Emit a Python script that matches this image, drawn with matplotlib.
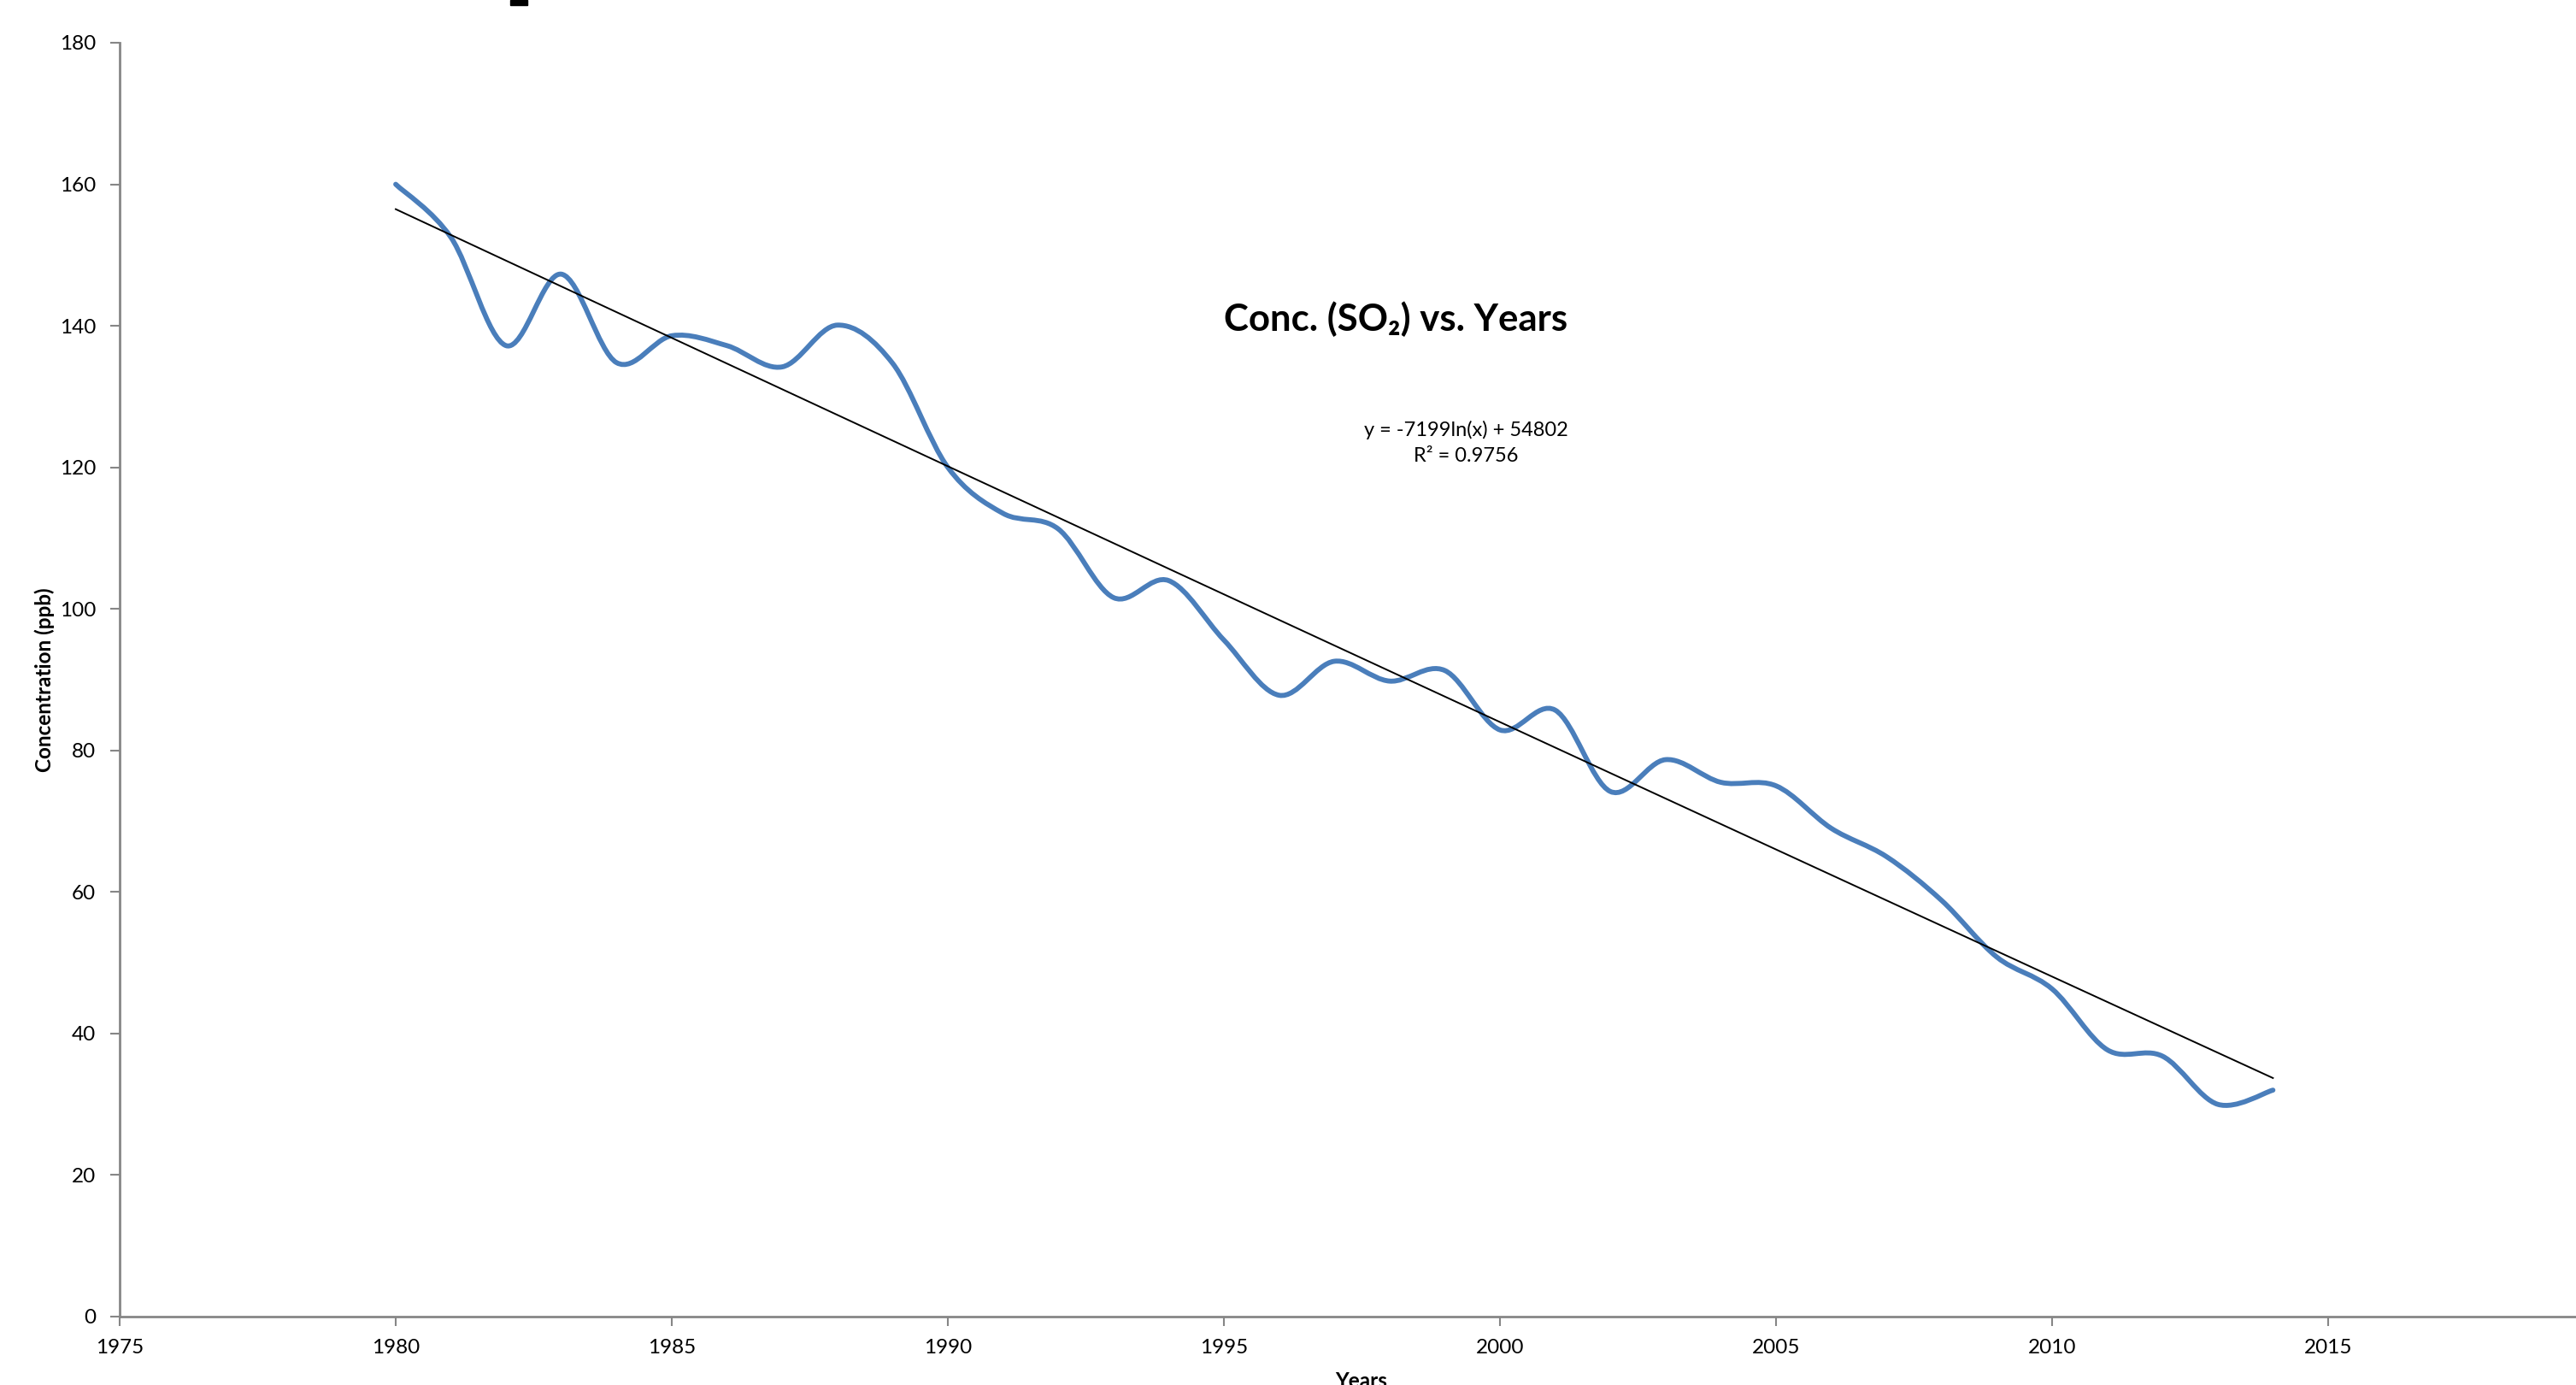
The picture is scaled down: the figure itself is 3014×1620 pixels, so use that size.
"""
SO2 concentration vs. year, smoothed line with a logarithmic trendline.
"""

import matplotlib
matplotlib.use("Agg")
import matplotlib.pyplot as plt
import numpy as np
from matplotlib.path import Path
from matplotlib.patches import PathPatch, Rectangle

years = list(range(1980, 2015))
conc_ppb = [160.0, 152.5, 137.2, 147.3, 134.8, 138.6, 137.2, 134.2, 140.1, 134.7,
            120.0, 113.5, 111.3, 101.6, 104.0, 95.6, 87.8, 92.6, 89.8, 91.3,
            82.9, 85.7, 74.2, 78.7, 75.5, 75.0, 69.0, 65.0, 58.8, 50.8,
            46.3, 37.7, 36.8, 30.0, 32.0]

x_ticks = list(range(1975, 2016, 5))
y_ticks = list(range(0, 181, 20))

title = "Conc. (SO\u2082) vs. Years"
equation = "y = -7199ln(x) + 54802\nR\u00b2 = 0.9756"

BLUE = "#4A7EBB"
GREY = "#868686"

plt.rcParams["font.family"] = ["Lato", "DejaVu Sans"]


def smooth_path(x, y):
    """Bezier path through the points, like Excel's 'smoothed line'."""
    pts = np.column_stack([x, y]).astype(float)
    n = len(pts)
    verts = [pts[0]]
    codes = [Path.MOVETO]
    for i in range(n - 1):
        p0 = pts[i - 1] if i > 0 else pts[i]
        p1 = pts[i]
        p2 = pts[i + 1]
        p3 = pts[i + 2] if i + 2 < n else pts[i + 1]
        c1 = p1 + (p2 - p0) / 6.0
        c2 = p2 - (p3 - p1) / 6.0
        verts += [c1, c2, p2]
        codes += [Path.CURVE4] * 3
    return Path(verts, codes)


W, H = 3014, 1620
fig = plt.figure(figsize=(W / 100, H / 100), dpi=100)
# axes runs past the right edge, as in the cropped original
ax = fig.add_axes([140 / W, 80 / H, 2907 / W, 1490 / H])

ax.add_patch(PathPatch(smooth_path(years, conc_ppb), fill=False,
                       edgecolor=BLUE, linewidth=4.2, capstyle="round",
                       joinstyle="round", zorder=3))

# logarithmic trendline fitted to the data
yrs = np.array(years, dtype=float)
coef = np.polyfit(np.log(yrs), np.array(conc_ppb), 1)
ax.plot(yrs, coef[0] * np.log(yrs) + coef[1], color="black", linewidth=1.4,
        zorder=4)

ax.set_xlim(1975, 2020)
ax.set_ylim(0, 180)
ax.set_xticks(x_ticks)
ax.set_yticks(y_ticks)
ax.tick_params(direction="out", length=8, width=1.5, color=GREY,
               labelsize=17.5, labelcolor="black")
ax.tick_params(axis="y", pad=12)
ax.tick_params(axis="x", pad=11)
for side in ("top", "right"):
    ax.spines[side].set_visible(False)
for side in ("left", "bottom"):
    ax.spines[side].set_color(GREY)
    ax.spines[side].set_linewidth(2)

fig.text(52 / W, 1 - 795 / H, "Concentration (ppb)", rotation=90,
         ha="center", va="center", fontsize=17.5, fontweight="bold")
fig.text(1593 / W, 1 - 1604 / H, "Years", ha="center", va="top",
         fontsize=17.5, fontweight="bold")
fig.text(1633 / W, 1 - 373 / H, title, ha="center", va="center",
         fontsize=31.5, fontweight="bold")
fig.text(1715 / W, 1 - 518 / H, equation, ha="center", va="center",
         multialignment="center", fontsize=17, linespacing=1.5)

# bit of a larger heading cut off at the top edge
fig.patches.append(Rectangle((597 / W, 1 - 6 / H), 20 / W, 6 / H,
                             transform=fig.transFigure, color="black"))

fig.savefig("out.png", dpi=100)
